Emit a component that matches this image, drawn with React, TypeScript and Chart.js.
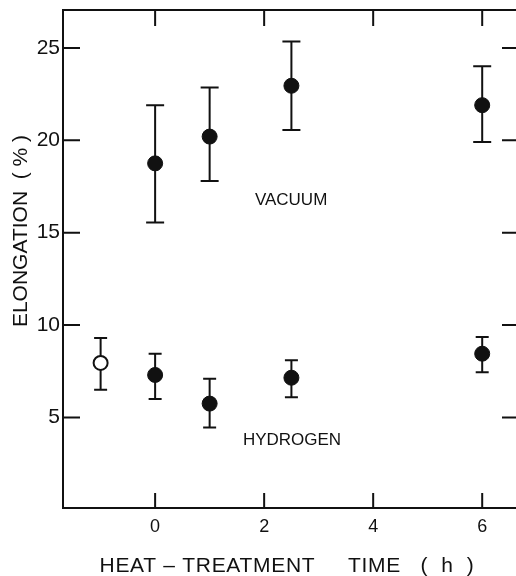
import React, { useEffect, useRef } from "react";
import { Chart, registerables } from "chart.js";

Chart.register(...registerables);

const xTicks = [0, 2, 4, 6];
const yTicks = [5, 10, 15, 20, 25];

const vacTime = [0, 1, 2.5, 6];
const vacMean = [18.75, 20.2, 22.95, 21.9];
const vacLow = [15.55, 17.8, 20.55, 19.9];
const vacHigh = [21.9, 22.85, 25.35, 24.0];

const h2Time = [0, 1, 2.5, 6];
const h2Mean = [7.3, 5.75, 7.15, 8.45];
const h2Low = [6.0, 4.45, 6.1, 7.45];
const h2High = [8.45, 7.1, 8.1, 9.35];

const h2OpenTime = [-1];
const h2OpenMean = [7.95];
const h2OpenLow = [6.5];
const h2OpenHigh = [9.3];

const xTitle = "HEAT – TREATMENT     TIME   (  h  )";
const yTitle = "ELONGATION  ( % )";
const vacLabel = "VACUUM";
const h2Label = "HYDROGEN";

const FONT = "'Liberation Sans', Arial, sans-serif";
const INK = "#111";

const errorGroups = [
  { t: vacTime, lo: vacLow, hi: vacHigh, cap: 9 },
  { t: h2Time, lo: h2Low, hi: h2High, cap: 6.5 },
  { t: h2OpenTime, lo: h2OpenLow, hi: h2OpenHigh, cap: 6.5 },
];

const framePlugin = {
  id: "frameAndErrors",
  beforeDatasetsDraw(chart: any) {
    const { ctx, chartArea, scales } = chart;
    const { left, top, right, bottom } = chartArea;
    const x = scales.x;
    const y = scales.y;
    ctx.save();
    ctx.strokeStyle = INK;
    ctx.lineWidth = 2;
    ctx.lineCap = "butt";
    ctx.beginPath();
    ctx.moveTo(right + 2, top);
    ctx.lineTo(left, top);
    ctx.lineTo(left, bottom);
    ctx.lineTo(right + 2, bottom);
    for (const v of xTicks) {
      const px = x.getPixelForValue(v);
      ctx.moveTo(px, top);
      ctx.lineTo(px, top + 16);
      ctx.moveTo(px, bottom);
      ctx.lineTo(px, bottom - 15);
    }
    for (const v of yTicks) {
      const py = y.getPixelForValue(v);
      ctx.moveTo(left, py);
      ctx.lineTo(left + 17, py);
      ctx.moveTo(right, py);
      ctx.lineTo(right - 14, py);
    }
    ctx.stroke();

    ctx.beginPath();
    for (const g of errorGroups) {
      g.t.forEach((t: number, i: number) => {
        const px = x.getPixelForValue(t);
        const pl = y.getPixelForValue(g.lo[i]);
        const ph = y.getPixelForValue(g.hi[i]);
        ctx.moveTo(px, pl);
        ctx.lineTo(px, ph);
        ctx.moveTo(px - g.cap, pl);
        ctx.lineTo(px + g.cap, pl);
        ctx.moveTo(px - g.cap, ph);
        ctx.lineTo(px + g.cap, ph);
      });
    }
    ctx.stroke();
    ctx.restore();
  },
  afterDraw(chart: any) {
    const { ctx, scales } = chart;
    const x = scales.x;
    const y = scales.y;
    ctx.save();
    ctx.fillStyle = INK;
    ctx.font = `17px ${FONT}`;
    ctx.textAlign = "left";
    ctx.textBaseline = "middle";
    ctx.fillText(vacLabel, x.getPixelForValue(1.83), y.getPixelForValue(16.75));
    ctx.fillText(h2Label, x.getPixelForValue(1.61), y.getPixelForValue(3.75));
    ctx.font = `21px ${FONT}`;
    ctx.textAlign = "center";
    ctx.textBaseline = "alphabetic";
    try {
      (ctx as any).letterSpacing = "0.7px";
    } catch (e) {}
    ctx.fillText(xTitle, 287, 572);
    try {
      (ctx as any).letterSpacing = "0px";
    } catch (e) {}
    ctx.translate(27, 231);
    ctx.rotate(-Math.PI / 2);
    ctx.fillText(yTitle, 0, 0);
    ctx.restore();
  },
};

const zeroPad = (s: any) => {
  s.paddingLeft = 0;
  s.paddingRight = 0;
  s.paddingTop = 0;
  s.paddingBottom = 0;
};

export default function App() {
  const ref = useRef<HTMLCanvasElement | null>(null);
  useEffect(() => {
    if (!ref.current) return;
    const pts = (t: number[], m: number[]) => t.map((v, i) => ({ x: v, y: m[i] }));
    const chart = new Chart(ref.current, {
      type: "scatter",
      data: {
        datasets: [
          {
            label: "Vacuum",
            data: pts(vacTime, vacMean),
            pointRadius: 7.5,
            pointBackgroundColor: INK,
            pointBorderColor: INK,
            pointBorderWidth: 1,
          },
          {
            label: "Hydrogen",
            data: pts(h2Time, h2Mean),
            pointRadius: 7.5,
            pointBackgroundColor: INK,
            pointBorderColor: INK,
            pointBorderWidth: 1,
          },
          {
            label: "Hydrogen (as received)",
            data: pts(h2OpenTime, h2OpenMean),
            pointRadius: 7,
            pointBackgroundColor: "#fff",
            pointBorderColor: INK,
            pointBorderWidth: 2,
          },
        ],
      },
      options: {
        responsive: false,
        animation: false,
        layout: { autoPadding: false, padding: { top: 10, left: 0, right: 0, bottom: 0 } },
        plugins: { legend: { display: false }, tooltip: { enabled: false } },
        scales: {
          x: {
            type: "linear",
            min: -1.69,
            max: 6.62,
            grid: { display: false, drawTicks: false },
            border: { display: false },
            afterBuildTicks: (s: any) => {
              s.ticks = xTicks.map((v) => ({ value: v }));
            },
            afterFit: (s: any) => {
              s.height = 68;
              zeroPad(s);
            },
            ticks: {
              autoSkip: false,
              maxRotation: 0,
              padding: 8,
              color: INK,
              font: { family: FONT, size: 18 },
            },
          },
          y: {
            type: "linear",
            min: 0.1,
            max: 27.05,
            grid: { display: false, drawTicks: false },
            border: { display: false },
            afterBuildTicks: (s: any) => {
              s.ticks = yTicks.map((v) => ({ value: v }));
            },
            afterFit: (s: any) => {
              s.width = 63;
              zeroPad(s);
            },
            ticks: {
              autoSkip: false,
              padding: 3,
              color: INK,
              font: { family: FONT, size: 21 },
            },
          },
        },
      },
      plugins: [framePlugin],
    });
    return () => chart.destroy();
  }, []);
  return (
    <div style={{ position: "fixed", left: 0, top: 0, width: 516, height: 576, background: "#fff" }}>
      <canvas ref={ref} width={516} height={576} style={{ display: "block" }} />
    </div>
  );
}
